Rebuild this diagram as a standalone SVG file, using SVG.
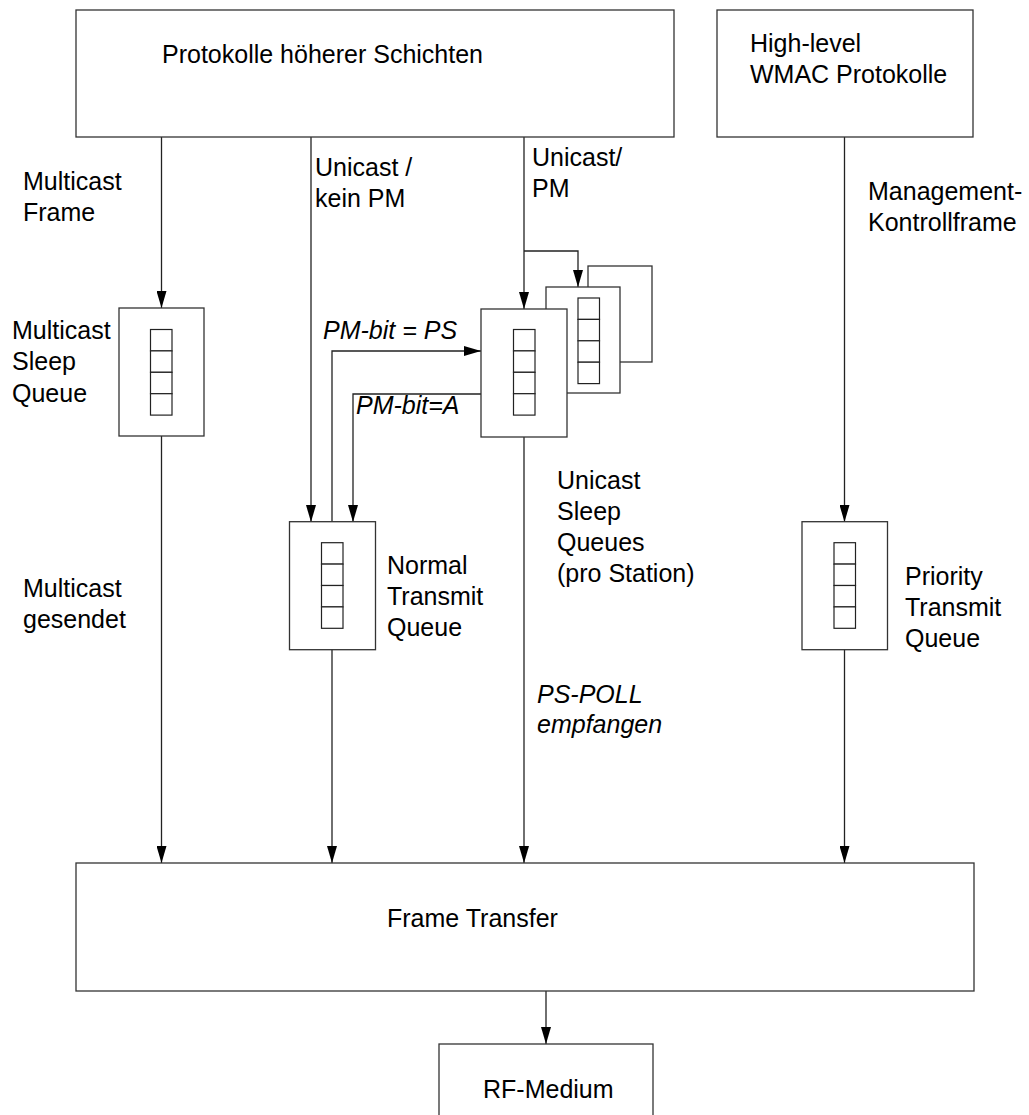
<svg xmlns="http://www.w3.org/2000/svg" width="1029" height="1115" viewBox="0 0 1029 1115">
<style>
.box{fill:#fff;stroke:#333;stroke-width:1.3}
.cell{fill:#fff;stroke:#222;stroke-width:1.2}
.ln{fill:none;stroke:#222;stroke-width:1.3}
text{font-family:"Liberation Sans",Arial,sans-serif;font-size:25px;fill:#000}
.it{font-style:italic}
</style>
<defs>
<marker id="ah" viewBox="0 0 17 10" refX="17" refY="5" markerWidth="17" markerHeight="10" markerUnits="userSpaceOnUse" orient="auto">
<path d="M0,0 L17,5 L0,10 Z" fill="#000"/>
</marker>
<g id="col">
<rect class="cell" x="0" y="0" width="21.5" height="21.4"/>
<rect class="cell" x="0" y="21.4" width="21.5" height="21.4"/>
<rect class="cell" x="0" y="42.8" width="21.5" height="21.4"/>
<rect class="cell" x="0" y="64.2" width="21.5" height="21.4"/>
</g>
</defs>

<g id="connectors">
<path class="ln" d="M161.5,137 V308" marker-end="url(#ah)"/>
<path class="ln" d="M161.5,436 V863" marker-end="url(#ah)"/>
<path class="ln" d="M311,137 V522" marker-end="url(#ah)"/>
<path class="ln" d="M332,522 V351 H481" marker-end="url(#ah)"/>
<path class="ln" d="M481,394 H353 V522" marker-end="url(#ah)"/>
<path class="ln" d="M524,137 V309" marker-end="url(#ah)"/>
<path class="ln" d="M524,251 H578 V287" marker-end="url(#ah)"/>
<path class="ln" d="M524,437 V863" marker-end="url(#ah)"/>
<path class="ln" d="M332,649 V863" marker-end="url(#ah)"/>
<path class="ln" d="M844.5,137 V522" marker-end="url(#ah)"/>
<path class="ln" d="M844.5,649 V863" marker-end="url(#ah)"/>
<path class="ln" d="M546,991 V1044" marker-end="url(#ah)"/>
</g>

<g id="hoehere-protokolle">
<rect class="box" x="76" y="10" width="598" height="127"/>
<text x="162" y="63">Protokolle höherer Schichten</text>
</g>

<g id="wmac-protokolle">
<rect class="box" x="717" y="10" width="256" height="127"/>
<text x="750" y="52">High-level</text>
<text x="750" y="83">WMAC Protokolle</text>
</g>

<g id="label-multicast-frame">
<text x="23" y="190">Multicast</text>
<text x="23" y="221">Frame</text>
</g>
<g id="label-unicast-kein-pm">
<text x="315" y="176">Unicast /</text>
<text x="315" y="207">kein PM</text>
</g>
<g id="label-unicast-pm">
<text x="532" y="166">Unicast/</text>
<text x="532" y="197">PM</text>
</g>
<g id="label-management">
<text x="868" y="200">Management-</text>
<text x="868" y="231">Kontrollframe</text>
</g>

<g id="multicast-sleep-queue">
<rect class="box" x="119" y="308" width="85" height="128"/>
<use href="#col" x="150.5" y="329.5"/>
<text x="12" y="339">Multicast</text>
<text x="12" y="370">Sleep</text>
<text x="12" y="402">Queue</text>
</g>

<g id="unicast-sleep-queues">
<rect class="box" x="588" y="266" width="64" height="96"/>
<rect class="box" x="546" y="287" width="74" height="106"/>
<use href="#col" x="578" y="298"/>
<rect class="box" x="481" y="309" width="86" height="128"/>
<use href="#col" x="513.5" y="329.5"/>
<text x="557" y="489">Unicast</text>
<text x="557" y="520">Sleep</text>
<text x="557" y="551">Queues</text>
<text x="557" y="582">(pro Station)</text>
</g>

<g id="label-pm-bit-ps"><text class="it" x="323" y="339">PM-bit = PS</text></g>
<g id="label-pm-bit-a"><text class="it" x="356" y="414">PM-bit=A</text></g>

<g id="normal-transmit-queue">
<rect class="box" x="289.5" y="521.7" width="86" height="128"/>
<use href="#col" x="321.5" y="542.7"/>
<text x="387" y="574">Normal</text>
<text x="387" y="605">Transmit</text>
<text x="387" y="636">Queue</text>
</g>

<g id="priority-transmit-queue">
<rect class="box" x="802" y="521.7" width="85.5" height="128"/>
<use href="#col" x="834" y="542.7"/>
<text x="905" y="585">Priority</text>
<text x="905" y="616">Transmit</text>
<text x="905" y="647">Queue</text>
</g>

<g id="label-multicast-gesendet">
<text x="23" y="597">Multicast</text>
<text x="23" y="628">gesendet</text>
</g>

<g id="label-ps-poll">
<text class="it" x="537" y="703">PS-POLL</text>
<text class="it" x="537" y="733">empfangen</text>
</g>

<g id="frame-transfer">
<rect class="box" x="76" y="863" width="898" height="128"/>
<text x="387" y="927">Frame Transfer</text>
</g>

<g id="rf-medium">
<rect class="box" x="439" y="1044" width="214" height="100"/>
<text x="483" y="1098">RF-Medium</text>
</g>
</svg>
